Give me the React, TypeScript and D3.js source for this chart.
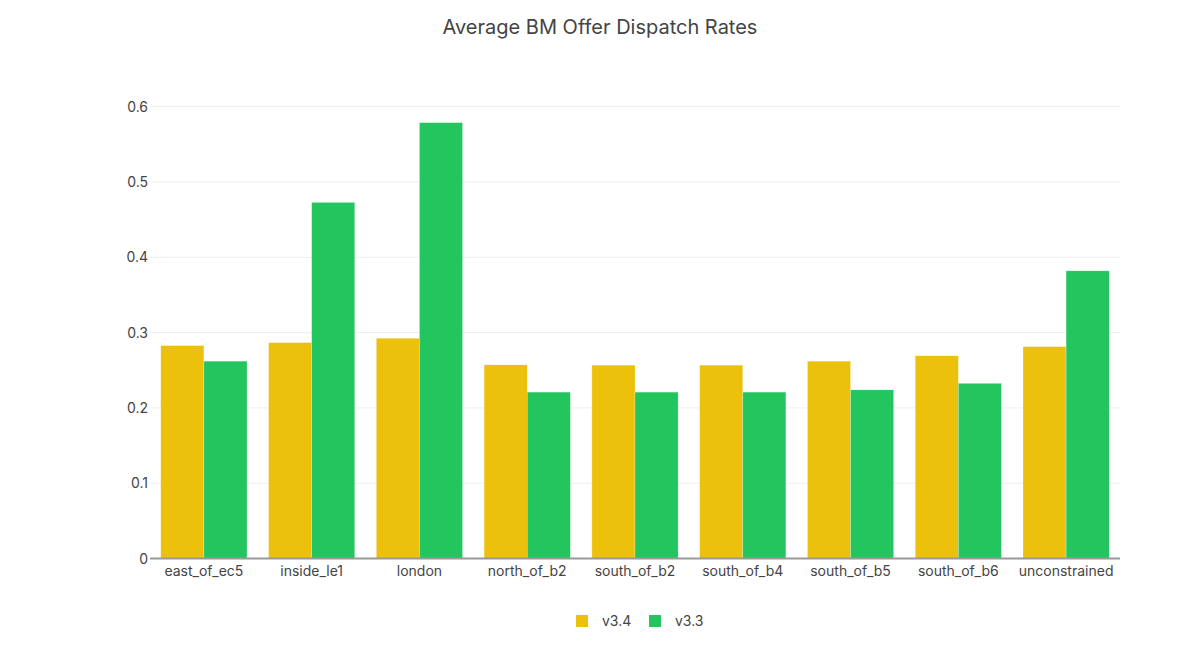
import React from "react";
import * as d3 from "d3";

const categories = ["east_of_ec5", "inside_le1", "london", "north_of_b2", "south_of_b2", "south_of_b4", "south_of_b5", "south_of_b6", "unconstrained"];
const seriesNames = ["v3.4", "v3.3"];
const v34 = [0.2827, 0.2867, 0.2925, 0.2572, 0.2568, 0.2568, 0.2621, 0.2692, 0.2814];
const v33 = [0.2621, 0.4728, 0.5787, 0.2210, 0.2210, 0.2210, 0.2240, 0.2327, 0.3820];
const colors = ["#ebc10b", "#23c55e"];
const yTicks = [0, 0.1, 0.2, 0.3, 0.4, 0.5, 0.6];

const W = 1200, H = 650;
const left = 150, right = 1120, top = 60, bottom = 558.6;
const font = "Inter, 'DejaVu Sans', sans-serif";

export default function App() {
  const x = d3.scaleBand<string>().domain(categories).range([left, right]).paddingInner(0.2).paddingOuter(0.1);
  const xs = d3.scaleBand<string>().domain(seriesNames).range([0, x.bandwidth()]);
  const y = d3.scaleLinear().domain([0, 0.6]).range([bottom, 106.6]);
  const data = [v34, v33];
  return (
    <svg width={W} height={H} style={{ position: "absolute", left: 0, top: 0, background: "#fff" }} fontFamily={font}>
      <text x={600} y={34} textAnchor="middle" fontSize={20} fill="#444">Average BM Offer Dispatch Rates</text>
      {yTicks.map((t) => (
        <g key={t}>
          {t > 0 && <line x1={left} x2={right} y1={y(t)} y2={y(t)} stroke="#eeeeee" strokeWidth={1} />}
          <text x={148} y={y(t)} dy="0.35em" textAnchor="end" fontSize={14} fill="#444">{d3.format("")(t)}</text>
        </g>
      ))}
      {data.map((vals, si) =>
        vals.map((v, i) => (
          <rect key={si + "-" + i}
            x={(x(categories[i]) as number) + (xs(seriesNames[si]) as number)}
            y={y(v)} width={xs.bandwidth()} height={bottom - y(v)}
            fill={colors[si]} stroke="#ffffff" strokeOpacity={0.5} strokeWidth={0.5} />
        ))
      )}
      <line x1={left} x2={right} y1={bottom} y2={bottom} stroke="#999" strokeWidth={2} />
      {categories.map((c) => (
        <text key={c} x={(x(c) as number) + x.bandwidth() / 2} y={576} textAnchor="middle" fontSize={14} fill="#444">{c}</text>
      ))}
      <g>
        <rect x={576} y={615} width={12} height={12} fill={colors[0]} />
        <text x={602} y={621} dy="0.35em" fontSize={14} fill="#444">{seriesNames[0]}</text>
        <rect x={649} y={615} width={12} height={12} fill={colors[1]} />
        <text x={675} y={621} dy="0.35em" fontSize={14} fill="#444">{seriesNames[1]}</text>
      </g>
    </svg>
  );
}
